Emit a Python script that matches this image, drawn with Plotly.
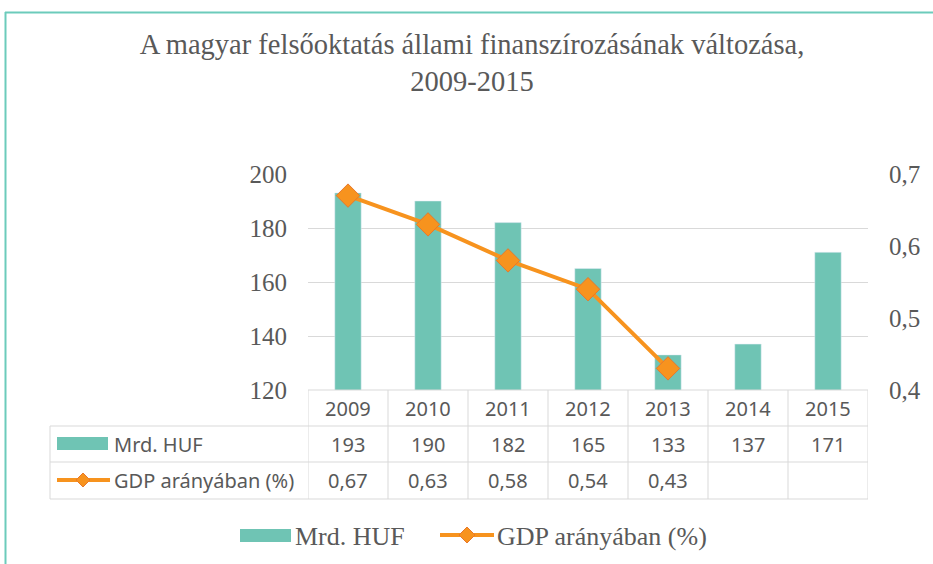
import plotly.graph_objects as go

years = ["2009", "2010", "2011", "2012", "2013", "2014", "2015"]
mrd_huf = [193, 190, 182, 165, 133, 137, 171]
gdp_pct = [0.67, 0.63, 0.58, 0.54, 0.43, None, None]
left_ticks = [120, 140, 160, 180, 200]
right_ticks = [0.4, 0.5, 0.6, 0.7]
right_tick_labels = ["0,4", "0,5", "0,6", "0,7"]
series_names = ["Mrd. HUF", "GDP arányában (%)"]
title_text = "A magyar felsőoktatás állami finanszírozásának változása,<br>2009-2015"

W, H = 933, 564
TEAL = "#6FC4B4"
ORANGE = "#F7931E"
ORANGE_EDGE = "#E8782A"
GRAY_TXT = "#595959"
GRID = "#D9D9D9"
SERIF = "Liberation Serif"
SANS = "Noto Sans"


def px(x):
    return x / W


def py(y):
    return 1 - y / H


idx = list(range(len(years)))

fig = go.Figure()
fig.add_trace(go.Bar(x=idx, y=mrd_huf, name=series_names[0], marker_color=TEAL,
                     width=0.33, yaxis="y"))
fig.add_trace(go.Scatter(x=idx, y=gdp_pct, name=series_names[1], mode="lines+markers",
                         line=dict(color=ORANGE, width=4),
                         marker=dict(symbol="diamond", size=18, color=ORANGE,
                                     line=dict(color=ORANGE_EDGE, width=1)),
                         yaxis="y2"))

shapes = []
annotations = []

# outer frame
shapes.append(dict(type="line", xref="paper", yref="paper", x0=px(5), x1=1, y0=py(12.5), y1=py(12.5),
                   line=dict(color="#6CCBBB", width=2)))
shapes.append(dict(type="line", xref="paper", yref="paper", x0=px(5.5), x1=px(5.5), y0=py(12), y1=0,
                   line=dict(color="#6CCBBB", width=2)))

# data table
T_TOP, R1, R2, R3 = 390, 426, 462, 499
LEFT = 50
tl = dict(color=GRID, width=1)
for i in range(len(years) + 1):
    shapes.append(dict(type="line", xref="x", yref="paper", x0=i - 0.5, x1=i - 0.5,
                       y0=py(T_TOP), y1=py(R3), line=tl))
shapes.append(dict(type="line", xref="paper", yref="paper", x0=px(LEFT), x1=px(LEFT),
                   y0=py(R1), y1=py(R3), line=tl))
shapes.append(dict(type="line", xref="x", yref="paper", x0=-0.5, x1=len(years) - 0.5,
                   y0=py(T_TOP), y1=py(T_TOP), line=tl))
for yy in (R1, R2, R3):
    shapes.append(dict(type="line", xref="paper", yref="paper",
                       x0=px(LEFT), x1=px(868), y0=py(yy), y1=py(yy), line=tl))

tfont = dict(family=SANS, size=20, color=GRAY_TXT)
for i, yr in enumerate(years):
    annotations.append(dict(x=i, y=py((T_TOP + R1) / 2), xref="x", yref="paper", text=yr,
                            showarrow=False, font=tfont, xanchor="center", yanchor="middle"))
    annotations.append(dict(x=i, y=py((R1 + R2) / 2), xref="x", yref="paper", text=str(mrd_huf[i]),
                            showarrow=False, font=tfont, xanchor="center", yanchor="middle"))
    v = gdp_pct[i]
    if v is not None:
        annotations.append(dict(x=i, y=py((R2 + R3) / 2), xref="x", yref="paper",
                                text=f"{v:.2f}".replace(".", ","),
                                showarrow=False, font=tfont, xanchor="center", yanchor="middle"))


def diamond(cx, cy, r):
    return (f"M {px(cx)} {py(cy - r)} L {px(cx + r)} {py(cy)} "
            f"L {px(cx)} {py(cy + r)} L {px(cx - r)} {py(cy)} Z")


# row label swatches
shapes.append(dict(type="rect", xref="paper", yref="paper", x0=px(57), x1=px(108),
                   y0=py(450), y1=py(437), fillcolor=TEAL, line=dict(width=0)))
annotations.append(dict(x=px(112), y=py(444), xref="paper", yref="paper", text=series_names[0],
                        showarrow=False, font=tfont, xanchor="left", yanchor="middle"))
shapes.append(dict(type="line", xref="paper", yref="paper", x0=px(57), x1=px(110),
                   y0=py(480), y1=py(480), line=dict(color=ORANGE, width=4)))
shapes.append(dict(type="path", xref="paper", yref="paper", path=diamond(83, 480, 7),
                   fillcolor=ORANGE, line=dict(color=ORANGE_EDGE, width=1)))
annotations.append(dict(x=px(112), y=py(480), xref="paper", yref="paper", text=series_names[1],
                        showarrow=False, font=tfont, xanchor="left", yanchor="middle"))

# bottom legend
lfont = dict(family=SERIF, size=26, color=GRAY_TXT)
shapes.append(dict(type="rect", xref="paper", yref="paper", x0=px(240), x1=px(291),
                   y0=py(542), y1=py(529), fillcolor=TEAL, line=dict(width=0)))
annotations.append(dict(x=px(293), y=py(536), xref="paper", yref="paper", text=series_names[0],
                        showarrow=False, font=lfont, xanchor="left", yanchor="middle"))
shapes.append(dict(type="line", xref="paper", yref="paper", x0=px(440), x1=px(494),
                   y0=py(535), y1=py(535), line=dict(color=ORANGE, width=4)))
shapes.append(dict(type="path", xref="paper", yref="paper", path=diamond(467, 535, 8),
                   fillcolor=ORANGE, line=dict(color=ORANGE_EDGE, width=1)))
annotations.append(dict(x=px(495), y=py(536), xref="paper", yref="paper", text=series_names[1],
                        showarrow=False, font=lfont, xanchor="left", yanchor="middle"))

fig.update_layout(
    width=W, height=H,
    margin=dict(l=0, r=0, t=0, b=0, autoexpand=False),
    paper_bgcolor="white", plot_bgcolor="white",
    showlegend=False,
    title=dict(text=title_text, x=px(472), xanchor="center", y=py(54), yanchor="middle",
               yref="container", automargin=False,
               font=dict(family=SERIF, size=28.5, color=GRAY_TXT)),
    xaxis=dict(domain=[px(308), px(868)], range=[-0.5, len(years) - 0.5], showticklabels=False,
               showgrid=False, zeroline=False, showline=False, ticks="", automargin=False),
    yaxis=dict(domain=[py(390), py(174)], range=[120, 200], tickvals=left_ticks,
               tickfont=dict(family=SERIF, size=25, color=GRAY_TXT), showgrid=True,
               gridcolor=GRID, gridwidth=1, zeroline=False, showline=False, ticks="",
               ticklabelstandoff=20, automargin=False),
    yaxis2=dict(overlaying="y", side="right", range=[0.4, 0.7], tickvals=right_ticks,
                ticktext=right_tick_labels, tickfont=dict(family=SERIF, size=25, color=GRAY_TXT),
                showgrid=False, zeroline=False, showline=False, ticks="", ticklabelstandoff=20,
                automargin=False),
    shapes=shapes, annotations=annotations,
)

fig.write_html("out.html")
